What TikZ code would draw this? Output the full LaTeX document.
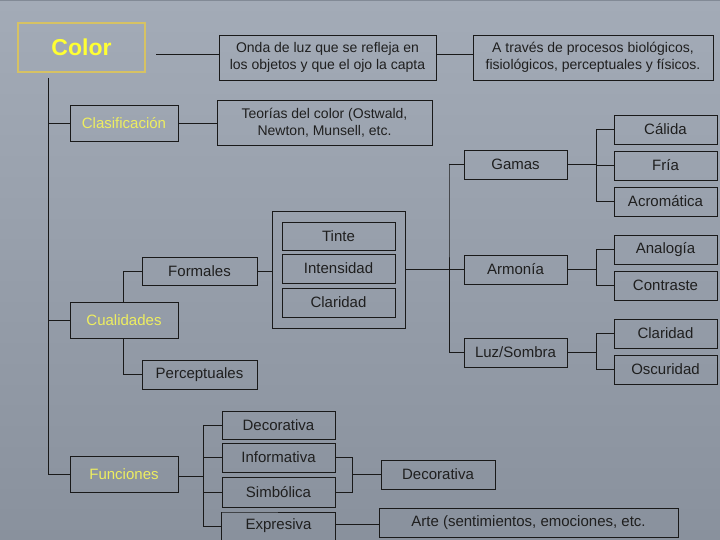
\documentclass[tikz,border=0pt]{standalone}
\usepackage{fontspec}
\setmainfont{Liberation Sans}
\begin{document}
\begin{tikzpicture}[x=1pt,y=-1pt,
  box/.style={draw=black!90, line width=0.9pt, rectangle, inner sep=0pt, align=center,
    font=\fontsize{15}{17}\selectfont, text=black!88},
  para/.style={box, font=\fontsize{14}{17}\selectfont},
  ylw/.style={box, text={rgb,255:red,238;green,238;blue,96}},
  conn/.style={draw=black!90, line width=0.9pt}]
\definecolor{bgtop}{RGB}{163,171,183}
\definecolor{bgbot}{RGB}{137,145,157}
\definecolor{colorborder}{RGB}{214,194,100}
\definecolor{coloryellow}{RGB}{255,255,51}
\useasboundingbox (0,0) rectangle (720,540);
\shade[top color=bgtop, bottom color=bgbot] (0,0) rectangle (720,540);
\draw[line width=1.5pt, draw={rgb,255:red,130;green,138;blue,150}] (0,0.75) -- (720,0.75);
% nodes
\node[box, draw=colorborder, line width=1.2pt, minimum width=127pt, minimum height=49pt,
  font=\fontsize{23}{26}\selectfont\bfseries, text=coloryellow] (color) at (81.5,47.5) {Color};
\node[para, minimum width=217pt, minimum height=45pt] (onda) at (327.5,57.5)
  {Onda de luz que se refleja en\\los objetos y que el ojo la capta};
\node[para, minimum width=240pt, minimum height=45pt] (atraves) at (593,57.5)
  {A través de procesos biológicos,\\fisiológicos, perceptuales y físicos.};
\node[ylw, minimum width=108pt, minimum height=36pt] (clasif) at (124,123) {Clasificación};
\node[para, minimum width=215pt, minimum height=45pt] (teorias) at (324.5,123)
  {Teorías del color (Ostwald,\\Newton, Munsell, etc.};
\node[box, minimum width=103pt, minimum height=29pt] (calida) at (665.5,129.5) {Cálida};
\node[box, minimum width=103pt, minimum height=29pt] (fria) at (665.5,165.5) {Fría};
\node[box, minimum width=103pt, minimum height=29pt] (acrom) at (665.5,201.5) {Acromática};
\node[box, minimum width=103pt, minimum height=29pt] (gamas) at (515.5,164.5) {Gamas};
\node[box, minimum width=103pt, minimum height=29pt] (armonia) at (515.5,269.5) {Armonía};
\node[box, minimum width=103pt, minimum height=29pt] (luz) at (515.5,352.5) {Luz/Sombra};
\node[box, minimum width=103pt, minimum height=29pt] (analogia) at (665.5,249.5) {Analogía};
\node[box, minimum width=103pt, minimum height=29pt] (contraste) at (665.5,285.5) {Contraste};
\node[box, minimum width=103pt, minimum height=29pt] (claridadb) at (665.5,333.5) {Claridad};
\node[box, minimum width=103pt, minimum height=29pt] (oscuridad) at (665.5,369.5) {Oscuridad};
\node[box, minimum width=133pt, minimum height=117pt] (group) at (338.5,269.5) {};
\node[box, minimum width=113pt, minimum height=28pt] (tinte) at (338.5,236) {Tinte};
\node[box, minimum width=113pt, minimum height=29pt] (intensidad) at (338.5,268.5) {Intensidad};
\node[box, minimum width=113pt, minimum height=29pt] (claridada) at (338.5,302.5) {Claridad};
\node[box, minimum width=115pt, minimum height=28pt] (formales) at (199.5,271) {Formales};
\node[ylw, minimum width=108pt, minimum height=36pt] (cualidades) at (124,320) {Cualidades};
\node[box, minimum width=115pt, minimum height=29pt] (percep) at (199.5,374.5) {Perceptuales};
\node[ylw, minimum width=108pt, minimum height=36pt] (funciones) at (124,474) {Funciones};
\node[box, minimum width=113pt, minimum height=28pt] (decora) at (278.5,425) {Decorativa};
\node[box, minimum width=113pt, minimum height=29pt] (inform) at (278.5,457.5) {Informativa};
\node[box, minimum width=113pt, minimum height=30pt] (simbol) at (278.5,492) {Simbólica};
\node[box, draw=none, minimum width=113pt, minimum height=28pt] (expres) at (278.5,526) {Expresiva};
\draw[conn] (expres.west |- 0,550) |- (222,512) -| (expres.east |- 0,550);
\node[box, minimum width=114pt, minimum height=29pt] (decorb) at (438,474.5) {Decorativa};
\node[box, minimum width=299pt, minimum height=29pt] (arte) at (528.5,522.5) {Arte (sentimientos, emociones, etc.};
% connectors
\coordinate (c1) at (156,54);
\draw[conn] (c1) -- (c1 -| onda.west);
\draw[conn] (onda.east |- c1) -- (c1 -| atraves.west);
\coordinate (trunk) at (48,78);
\draw[conn] (trunk) |- (funciones.west);
\draw[conn] (trunk |- clasif.west) -- (clasif.west);
\draw[conn] (trunk |- cualidades.west) -- (cualidades.west);
\draw[conn] (clasif.east) -- (clasif.east -| teorias.west);
\coordinate (v1) at (449,164);
\draw[conn] (gamas.west) -| (v1) |- (luz.west);
\draw[conn] (group.east) -- (group.east -| armonia.west);
\coordinate (v2) at (596,0);
\draw[conn] (gamas.east) -- (v2 |- gamas.east);
\draw[conn] (calida.west) -| (v2 |- acrom.west) -- (acrom.west);
\draw[conn] (v2 |- fria.west) -- (fria.west);
\draw[conn] (armonia.east) -- (v2 |- armonia.east);
\draw[conn] (analogia.west) -| (v2 |- contraste.west) -- (contraste.west);
\draw[conn] (luz.east) -- (v2 |- luz.east);
\draw[conn] (claridadb.west) -| (v2 |- oscuridad.west) -- (oscuridad.west);
\draw[conn] (formales.east) -- (group.west |- formales.east);
\coordinate (v3) at (123,0);
\draw[conn] (v3 |- cualidades.north) -- (v3 |- formales.west) -- (formales.west);
\draw[conn] (v3 |- cualidades.south) -- (v3 |- percep.west) -- (percep.west);
\coordinate (v4) at (203,476);
\draw[conn] (funciones.east |- v4) -- (v4);
\draw[conn] (decora.west) -| (v4 |- expres.west) -- (expres.west);
\draw[conn] (v4 |- inform.west) -- (inform.west);
\draw[conn] (v4 |- simbol.west) -- (simbol.west);
\coordinate (v5) at (352,0);
\draw[conn] (inform.east) -| (v5 |- simbol.east) -- (simbol.east);
\draw[conn] (v5 |- decorb.west) -- (decorb.west);
\draw[conn] (expres.east |- 0,524) -- (arte.west |- 0,524);
\end{tikzpicture}
\end{document}
